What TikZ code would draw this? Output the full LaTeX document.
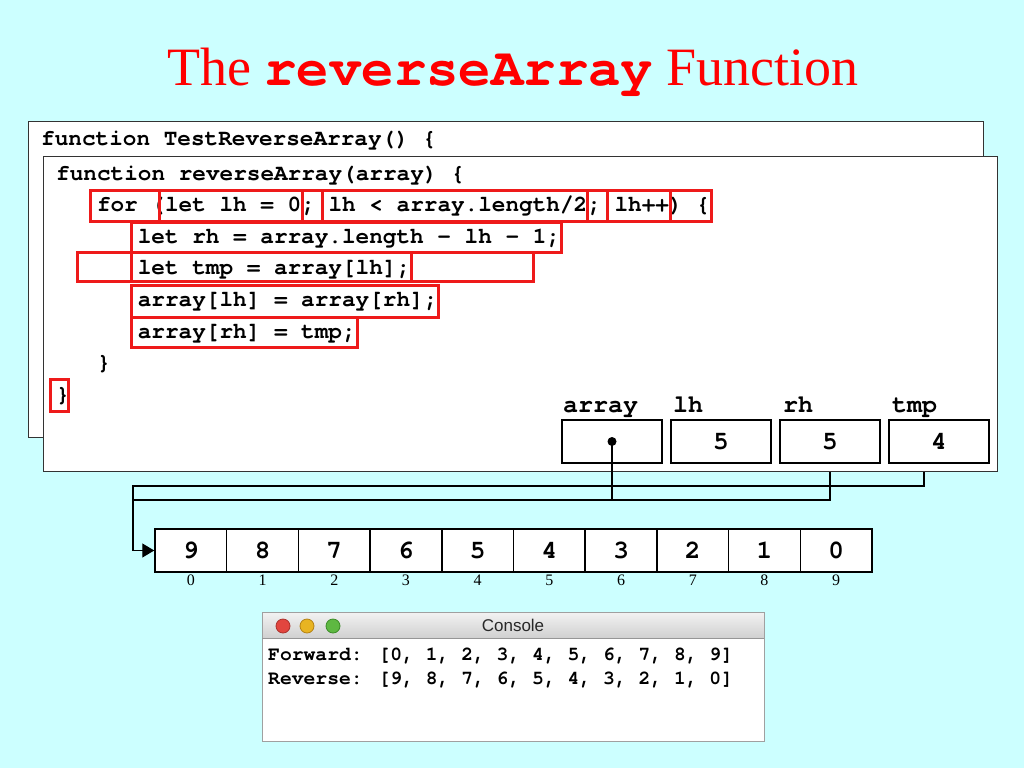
\documentclass[tikz,border=0pt]{standalone}
\usepackage{fontspec}
\setmainfont{Liberation Serif}
\newfontfamily\monof{texgyrecursor-regular.otf}[BoldFont=texgyrecursor-bold.otf]
\newfontfamily\sansf{Liberation Sans}
\usetikzlibrary{arrows.meta}
\definecolor{bg}{HTML}{CCFFFF}
\definecolor{hl}{HTML}{EE1A1A}
\definecolor{frame}{HTML}{333333}
\definecolor{cborder}{HTML}{A0A0A0}
\definecolor{cline}{HTML}{969696}
\definecolor{ctop}{HTML}{F2F2F2}
\definecolor{cbot}{HTML}{D0D0D0}
\definecolor{ctext}{HTML}{282828}
\definecolor{tlred}{HTML}{E2463F}
\definecolor{tlredb}{HTML}{AA322D}
\definecolor{tlyel}{HTML}{E8B422}
\definecolor{tlyelb}{HTML}{B48214}
\definecolor{tlgrn}{HTML}{5EB842}
\definecolor{tlgrnb}{HTML}{3C8C28}
\begin{document}
\begin{tikzpicture}[x=1pt,y=-1pt,
  codeline/.style={anchor=base west, inner sep=0pt, font=\monof\bfseries\fontsize{22.7}{27}\selectfont},
  hlbox/.style={draw=hl, line width=3pt},
  framebox/.style={draw=frame, fill=white, line width=1.4pt},
  varlabel/.style={anchor=base west, inner sep=0pt, font=\monof\bfseries\fontsize{25}{30}\selectfont},
  varbox/.style={draw=black, fill=white, line width=1.5pt, minimum width=100pt, minimum height=43pt, inner sep=0pt, font=\monof\bfseries\fontsize{26}{30}\selectfont},
  cellbox/.style={draw=black, fill=white, line width=1.5pt, minimum width=71.7pt, minimum height=43pt, inner sep=0pt, font=\monof\bfseries\fontsize{26}{30}\selectfont},
  idx/.style={inner sep=0pt, font=\fontsize{16}{18}\selectfont},
  conline/.style={anchor=base west, inner sep=0pt, font=\monof\bfseries\fontsize{19.7}{24}\selectfont},
  wire/.style={draw=black, line width=1.4pt},
  light/.style={line width=0.8pt}
]
\useasboundingbox (0,0) rectangle (1024,768);
\fill[bg] (0,0) rectangle (1024,768);

% title
\node[anchor=base, inner sep=0pt, text=red, font=\fontsize{54}{60}\selectfont] (title) at (513,85)
  {The {\monof\bfseries reverseArray} Function};

% outer frame
\node[framebox, anchor=north west, minimum width=955pt, minimum height=316pt, inner sep=0pt] (outer) at (28,121) {};
\node[codeline] (o1) at (41,145) {function TestReverseArray() \{};

% leftover pointer wires from outer frame
\coordinate (p1) at (924,437);
\coordinate (p2) at (830,437);
\coordinate (bend1) at (133,486);
\coordinate (join) at (133,500);
\draw[wire] (p1) |- (bend1) -- (join);
\draw[wire] (p2) |- (join);

% inner frame
\node[framebox, anchor=north west, minimum width=954pt, minimum height=315pt, inner sep=0pt] (inner) at (43,156) {};

\node[codeline] (c0) at (56,180) {function reverseArray(array) \{};
\node[codeline] (c1) at (96.8,211.6) {for (let lh = 0; lh < array.length/2; lh++) \{};
\node[codeline] (c2) at (137.6,243.2) {let rh = array.length - lh - 1;};
\node[codeline] (c3) at (137.6,274.8) {let tmp = array[lh];};
\node[codeline] (c4) at (137.6,306.4) {array[lh] = array[rh];};
\node[codeline] (c5) at (137.6,338) {array[rh] = tmp;};
\node[codeline] (c6) at (96.8,369.6) {\}};
\node[codeline] (c7) at (56,401.2) {\}};

% highlight boxes
\draw[hlbox] (90,190) rectangle (159,221);
\draw[hlbox] (159,190) rectangle (302,221);
\draw[hlbox] (302,190) rectangle (322,221);
\draw[hlbox] (322,190) rectangle (587,221);
\draw[hlbox] (587,190) rectangle (607,221);
\draw[hlbox] (607,190) rectangle (670,221);
\draw[hlbox] (670,190) rectangle (711,221);
\draw[hlbox] (131,222) rectangle (561,252);
\draw[hlbox] (77,252) rectangle (131,281);
\draw[hlbox] (131,252) rectangle (411,281);
\draw[hlbox] (411,252) rectangle (533,281);
\draw[hlbox] (131,285) rectangle (438,317);
\draw[hlbox] (131,317) rectangle (357,347);
\draw[hlbox] (50,379) rectangle (68,411);

% variables
\node[varlabel] (larr) at (563,412) {array};
\node[varlabel] (llh) at (673,412) {lh};
\node[varlabel] (lrh) at (783,412) {rh};
\node[varlabel] (ltmp) at (892,412) {tmp};
\node[varbox] (vArray) at (612,441.5) {};
\node[varbox] (vlh) at (721,441.5) {5};
\node[varbox] (vrh) at (830,441.5) {5};
\node[varbox] (vtmp) at (939,441.5) {4};

% array
\foreach \v [count=\i from 0] in {9,8,7,6,5,4,3,2,1,0} {
  \node[cellbox] (cell\i) at ({155+71.7*(\i+0.5)},550.5) {\v};
  \node[idx] (ix\i) at ({155+71.7*(\i+0.5)},580) {\i};
}

% pointer from array variable
\fill (vArray.center) circle (4.5pt);
\draw[wire] (vArray.center) |- (join);
\draw[wire, -{Triangle[length=12pt,width=14pt]}] (join) |- (cell0.west);

% console
\node[draw=cborder, fill=white, line width=1pt, anchor=north west, minimum width=502pt, minimum height=129pt, inner sep=0pt] (console) at (262,612) {};
\shade[top color=ctop, bottom color=cbot] (262.5,612.5) rectangle (763.5,638);
\draw[draw=cborder, line width=1pt] (262,612) rectangle (764,741);
\draw[draw=cline, line width=1pt] (262,638) -- (764,638);
\node[inner sep=0pt, font=\sansf\fontsize{17}{20}\selectfont, text=ctext] (ctitle) at (513,625) {Console};
\filldraw[light, fill=tlred, draw=tlredb] (283,626) circle (7pt);
\filldraw[light, fill=tlyel, draw=tlyelb] (307,626) circle (7pt);
\filldraw[light, fill=tlgrn, draw=tlgrnb] (333,626) circle (7pt);
\node[conline] (fw) at (268,660) {Forward: [0, 1, 2, 3, 4, 5, 6, 7, 8, 9]};
\node[conline] (rv) at (268,684) {Reverse: [9, 8, 7, 6, 5, 4, 3, 2, 1, 0]};
\end{tikzpicture}
\end{document}
